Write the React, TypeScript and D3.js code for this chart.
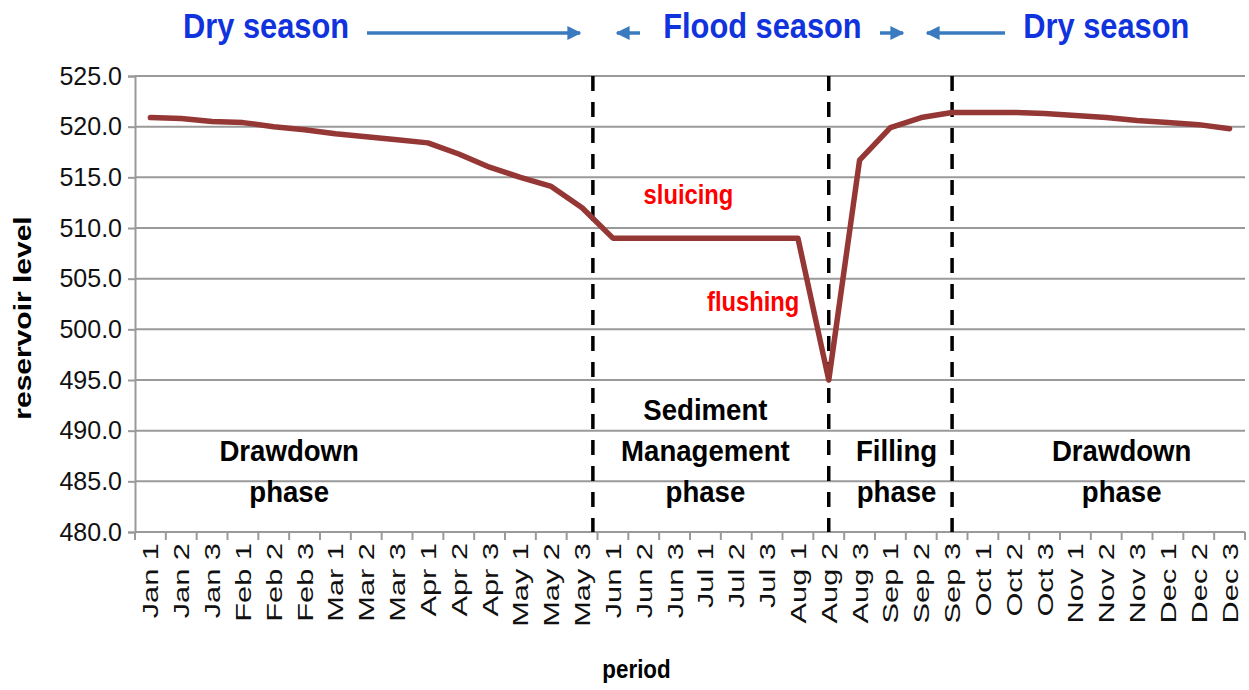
import React, { useEffect, useRef } from 'react';
import * as d3 from 'd3';

const months = ['Jan', 'Feb', 'Mar', 'Apr', 'May', 'Jun', 'Jul', 'Aug', 'Sep', 'Oct', 'Nov', 'Dec'];
const periods: string[] = [];
months.forEach(m => [1, 2, 3].forEach(k => periods.push(`${m} ${k}`)));

// reservoir level (one value per 10-day period)
const levels = [
  520.9, 520.8, 520.5, 520.4, 520.0, 519.7, 519.3, 519.0, 518.7,
  518.4, 517.3, 516.0, 515.0, 514.1, 512.0, 509.0, 509.0, 509.0,
  509.0, 509.0, 509.0, 509.0, 495.0, 516.7, 519.9, 520.9, 521.4,
  521.4, 521.4, 521.3, 521.1, 520.9, 520.6, 520.4, 520.2, 519.8,
];

const yTicks = [480, 485, 490, 495, 500, 505, 510, 515, 520, 525];

// dashed separators (fractional period index)
const separators = [14.35, 22, 26];

const phases = [
  { lines: ['Drawdown', 'phase'], at: 4.5 },
  { lines: ['Sediment', 'Management', 'phase'], at: 18.0 },
  { lines: ['Filling', 'phase'], at: 24.2 },
  { lines: ['Drawdown', 'phase'], at: 31.5 },
];

const seasons = [
  { text: 'Dry season', at: 3.75 },
  { text: 'Flood season', at: 19.85 },
  { text: 'Dry season', at: 31.0 },
];

const App = () => {
  const svgRef = useRef<SVGSVGElement>(null);

  useEffect(() => {
    const W = 1249, H = 690;
    const svg = d3.select(svgRef.current).attr('width', W).attr('height', H);
    svg.selectAll('*').remove();

    const left = 135, right = 1245, top = 76, bottom = 532;
    const font = 'Liberation Sans, Arial, sans-serif';

    const x = d3.scaleBand().domain(periods).range([left, right]).paddingInner(0).paddingOuter(0);
    const xi = d3.scaleLinear().domain([-0.5, periods.length - 0.5]).range([left, right]);
    const y = d3.scaleLinear().domain([480, 525]).range([bottom, top]);

    // gridlines
    svg.append('g').selectAll('line').data(yTicks.filter(v => v > 480)).join('line')
      .attr('x1', left).attr('x2', right)
      .attr('y1', d => y(d)).attr('y2', d => y(d))
      .attr('stroke', '#9a9a9a').attr('stroke-width', 2);

    // y axis
    const yAxis = svg.append('g')
      .attr('transform', `translate(${left},0)`)
      .call(d3.axisLeft(y).tickValues(yTicks).tickFormat(d3.format('.1f')).tickSize(7).tickPadding(6));
    yAxis.select('.domain').attr('stroke', '#9a9a9a').attr('stroke-width', 2);
    yAxis.selectAll('.tick line').attr('stroke', '#9a9a9a').attr('stroke-width', 2);
    yAxis.selectAll('.tick text')
      .style('font-family', font).style('font-size', '25px').attr('fill', '#111');

    // x axis: ticks between periods
    const xg = svg.append('g').attr('transform', `translate(0,${bottom})`);
    xg.append('line').attr('x1', left).attr('x2', right).attr('stroke', '#9a9a9a').attr('stroke-width', 2);
    xg.selectAll('line.t').data(d3.range(periods.length + 1)).join('line')
      .attr('class', 't')
      .attr('x1', d => xi(d - 0.5)).attr('x2', d => xi(d - 0.5))
      .attr('y1', 0).attr('y2', 8)
      .attr('stroke', '#9a9a9a').attr('stroke-width', 2);
    xg.selectAll('text').data(periods).join('text')
      .attr('transform', d => `translate(${x(d)! + x.bandwidth() / 2 + 8},11) rotate(-90) scale(1.4,1)`)
      .attr('text-anchor', 'end')
      .style('font-family', font).style('font-size', '22px').attr('fill', '#111')
      .text(d => d);

    // dashed separators
    svg.append('g').selectAll('line').data(separators).join('line')
      .attr('x1', d => xi(d)).attr('x2', d => xi(d))
      .attr('y1', top).attr('y2', bottom)
      .attr('stroke', '#000').attr('stroke-width', 3.5).attr('stroke-dasharray', '15,11');

    // level line
    const line = d3.line<number>()
      .x((_, i) => x(periods[i])! + x.bandwidth() / 2)
      .y(d => y(d));
    svg.append('path').datum(levels)
      .attr('fill', 'none').attr('stroke', '#953735').attr('stroke-width', 5.5)
      .attr('stroke-linejoin', 'round').attr('stroke-linecap', 'round')
      .attr('d', line);

    // red annotations
    const redText = (t: string, at: number, v: number) => svg.append('text')
      .attr('transform', `translate(${xi(at)},${y(v)}) scale(0.88,1)`)
      .attr('text-anchor', 'middle')
      .style('font-family', font).style('font-size', '27px').style('font-weight', 'bold')
      .attr('fill', '#ff0000').text(t);
    redText('sluicing', 17.45, 512.4);
    redText('flushing', 19.55, 501.8);

    // phase labels
    phases.forEach(p => {
      const n = p.lines.length;
      p.lines.forEach((t, k) => {
        const row = 3 - n + k; // rows at 3 positions
        svg.append('text')
          .attr('transform', `translate(${xi(p.at)},${420 + row * 41}) scale(0.92,1)`)
          .attr('text-anchor', 'middle')
          .style('font-family', font).style('font-size', '30px').style('font-weight', 'bold')
          .attr('fill', '#000').text(t);
      });
    });

    // season titles
    seasons.forEach(s => {
      svg.append('text')
        .attr('transform', `translate(${xi(s.at)},38) scale(0.88,1)`)
        .attr('text-anchor', 'middle')
        .style('font-family', font).style('font-size', '35px').style('font-weight', 'bold')
        .attr('fill', '#1133dd').text(s.text);
    });

    // season arrows
    const arrowColor = '#3a7bbf';
    svg.append('defs').append('marker')
      .attr('id', 'ah').attr('viewBox', '0 0 10 10').attr('refX', 9).attr('refY', 5)
      .attr('markerWidth', 4).attr('markerHeight', 4).attr('orient', 'auto')
      .append('path').attr('d', 'M0,0 L10,5 L0,10 z').attr('fill', arrowColor);
    const arrows = [[367, 580], [640, 617], [880, 903], [1005, 927]];
    svg.append('g').selectAll('line').data(arrows).join('line')
      .attr('x1', d => d[0]).attr('x2', d => d[1]).attr('y1', 33).attr('y2', 33)
      .attr('stroke', arrowColor).attr('stroke-width', 3.5).attr('marker-end', 'url(#ah)');

    // axis titles
    svg.append('text')
      .attr('transform', `translate(${W / 2 + 12},${H - 12}) scale(0.86,1)`)
      .attr('text-anchor', 'middle')
      .style('font-family', font).style('font-size', '26px').style('font-weight', 'bold')
      .text('period');
    svg.append('text')
      .attr('transform', `translate(31,${(top + bottom) / 2 + 14}) rotate(-90) scale(1.25,1)`)
      .attr('text-anchor', 'middle')
      .style('font-family', font).style('font-size', '24px').style('font-weight', 'bold')
      .text('reservoir level');
  }, []);

  return <svg ref={svgRef} style={{ position: 'absolute', left: 0, top: 0, background: '#fff' }}></svg>;
};

export default App;
